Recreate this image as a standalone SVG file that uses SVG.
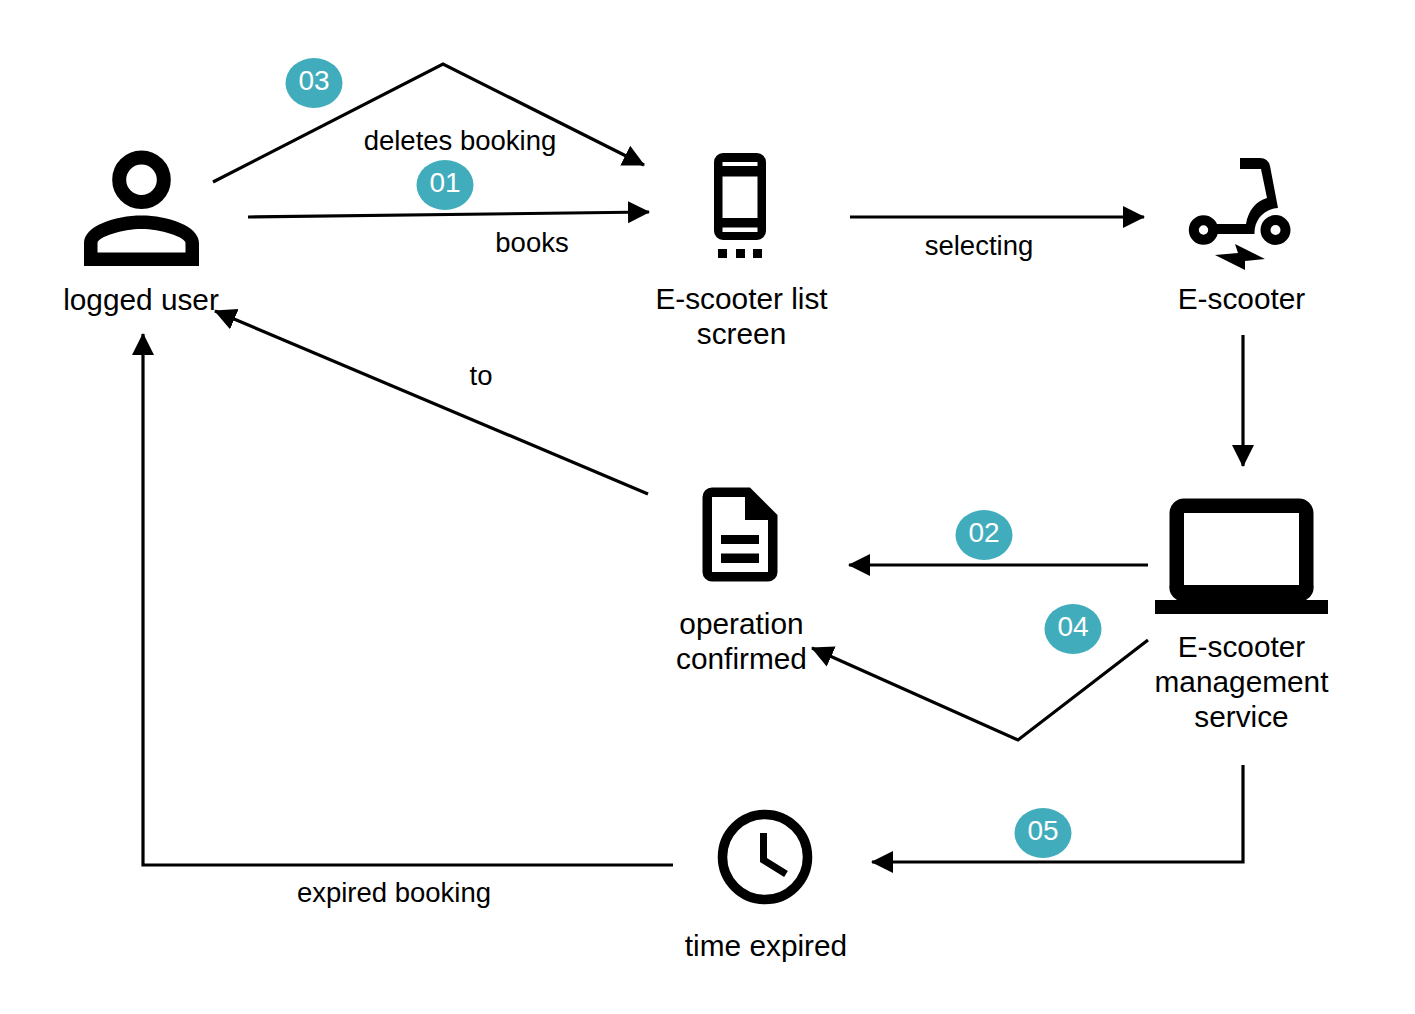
<svg xmlns="http://www.w3.org/2000/svg" width="1415" height="1014" viewBox="0 0 1415 1014">
<style>
text{font-family:"Liberation Sans",Arial,sans-serif;fill:#000;text-anchor:middle}
.n{font-size:29.800px}
.e{font-size:27.500px}
.b{font-size:28px;fill:#fff}
.bg{fill:#41adbc}
.c{fill:none;stroke:#000;stroke-width:3.2}
</style>
<defs><marker id="a" markerUnits="userSpaceOnUse" markerWidth="24" markerHeight="24" refX="21" refY="11" orient="auto"><path d="M0 0L22 11L0 22Z" fill="#000"/></marker></defs>
<rect width="1415" height="1014" fill="#fff"/>
<g id="connectors">
<path class="c" marker-end="url(#a)" d="M213 182L443 64L644 165"/>
<path class="c" marker-end="url(#a)" d="M248 217L649 212"/>
<path class="c" marker-end="url(#a)" d="M850 217H1144"/>
<path class="c" marker-end="url(#a)" d="M1243 335V466"/>
<path class="c" marker-end="url(#a)" d="M1148 565H849"/>
<path class="c" marker-end="url(#a)" d="M1148 640L1018 740L812 648"/>
<path class="c" marker-end="url(#a)" d="M648 494L215 311"/>
<path class="c" marker-end="url(#a)" d="M1243 765V862H872"/>
<path class="c" marker-end="url(#a)" d="M673 865H143V334"/>
</g>
<g id="edge-labels">
<text class="e" x="460" y="150">deletes booking</text>
<text class="e" x="532" y="252">books</text>
<text class="e" x="979" y="255">selecting</text>
<text class="e" x="481" y="385">to</text>
<text class="e" x="394" y="902">expired booking</text>
</g>
<g id="badge-03"><ellipse class="bg" cx="314" cy="83" rx="28.500" ry="25"/><text class="b" x="314" y="90">03</text></g>
<g id="badge-01"><ellipse class="bg" cx="445" cy="185" rx="28.500" ry="25"/><text class="b" x="445" y="192">01</text></g>
<g id="badge-02"><ellipse class="bg" cx="984" cy="535" rx="28.500" ry="25"/><text class="b" x="984" y="542">02</text></g>
<g id="badge-04"><ellipse class="bg" cx="1073" cy="629" rx="28.500" ry="25"/><text class="b" x="1073" y="636">04</text></g>
<g id="badge-05"><ellipse class="bg" cx="1043" cy="833" rx="28.500" ry="25"/><text class="b" x="1043" y="840">05</text></g>
<g id="logged-user">
<circle cx="141.500" cy="179.700" r="22.300" fill="none" stroke="#000" stroke-width="14"/>
<path fill-rule="evenodd" d="M84 266V243C84 226 115 215.500 141.500 215.500S199 226 199 243V266ZM97.500 252.500H185.500V243C185.500 237 160 229 141.500 229S97.500 237 97.500 243Z"/>
<text class="n" x="141" y="310">logged user</text>
</g>
<g id="e-scooter-list-screen">
<path fill-rule="evenodd" d="M723 153H757A9 9 0 0 1 766 162V231A9 9 0 0 1 757 240H723A9 9 0 0 1 714 231V162A9 9 0 0 1 723 153ZM722.500 162V166H757.500V162ZM722.500 176.500V218H757.500V176.500ZM722.500 227.500V232H757.500V227.500Z"/>
<rect x="718" y="249" width="9" height="9"/><rect x="736" y="249" width="9" height="9"/><rect x="753" y="249" width="9" height="9"/>
<text class="n" x="741.500" y="309">E-scooter list</text>
<text class="n" x="741.500" y="344">screen</text>
</g>
<g id="e-scooter">
<circle cx="1203.500" cy="230" r="9.700" fill="none" stroke="#000" stroke-width="10"/>
<circle cx="1275.500" cy="230" r="10" fill="none" stroke="#000" stroke-width="10"/>
<path d="M1240 158H1260Q1268 158 1270 166L1278 208C1264 209 1254 220 1254.500 234H1212V224H1246C1248 211 1256 201 1267 198L1261 169H1240Z"/>
<path d="M1215 255L1238 253L1235 244L1265 259L1245 261V270Z"/>
<text class="n" x="1241.500" y="309">E-scooter</text>
</g>
<g id="operation-confirmed">
<path fill-rule="evenodd" d="M712 487.500H750L777.500 515V572A9.500 9.500 0 0 1 768 581.500H712A9.500 9.500 0 0 1 702.500 572V497A9.500 9.500 0 0 1 712 487.500ZM712 497V572H768V520H745V497ZM721 535V544H759V535ZM721 553.500V563H759V553.500Z"/>
<text class="n" x="741.500" y="634">operation</text>
<text class="n" x="741.500" y="669">confirmed</text>
</g>
<g id="e-scooter-management-service">
<path fill-rule="evenodd" d="M1184 498.500H1299A14.500 14.500 0 0 1 1313.500 513V585A14.500 14.500 0 0 1 1306 600H1328V614H1155V600H1177A14.500 14.500 0 0 1 1169.500 585V513A14.500 14.500 0 0 1 1184 498.500ZM1184 513V585H1299V513Z"/>
<text class="n" x="1241.500" y="657">E-scooter</text>
<text class="n" x="1241.500" y="692">management</text>
<text class="n" x="1241.500" y="727">service</text>
</g>
<g id="time-expired">
<circle cx="765" cy="857" r="42.500" fill="none" stroke="#000" stroke-width="9.500"/>
<path d="M763.500 833V860L786 874" fill="none" stroke="#000" stroke-width="7"/>
<text class="n" x="766" y="956">time expired</text>
</g>
</svg>
